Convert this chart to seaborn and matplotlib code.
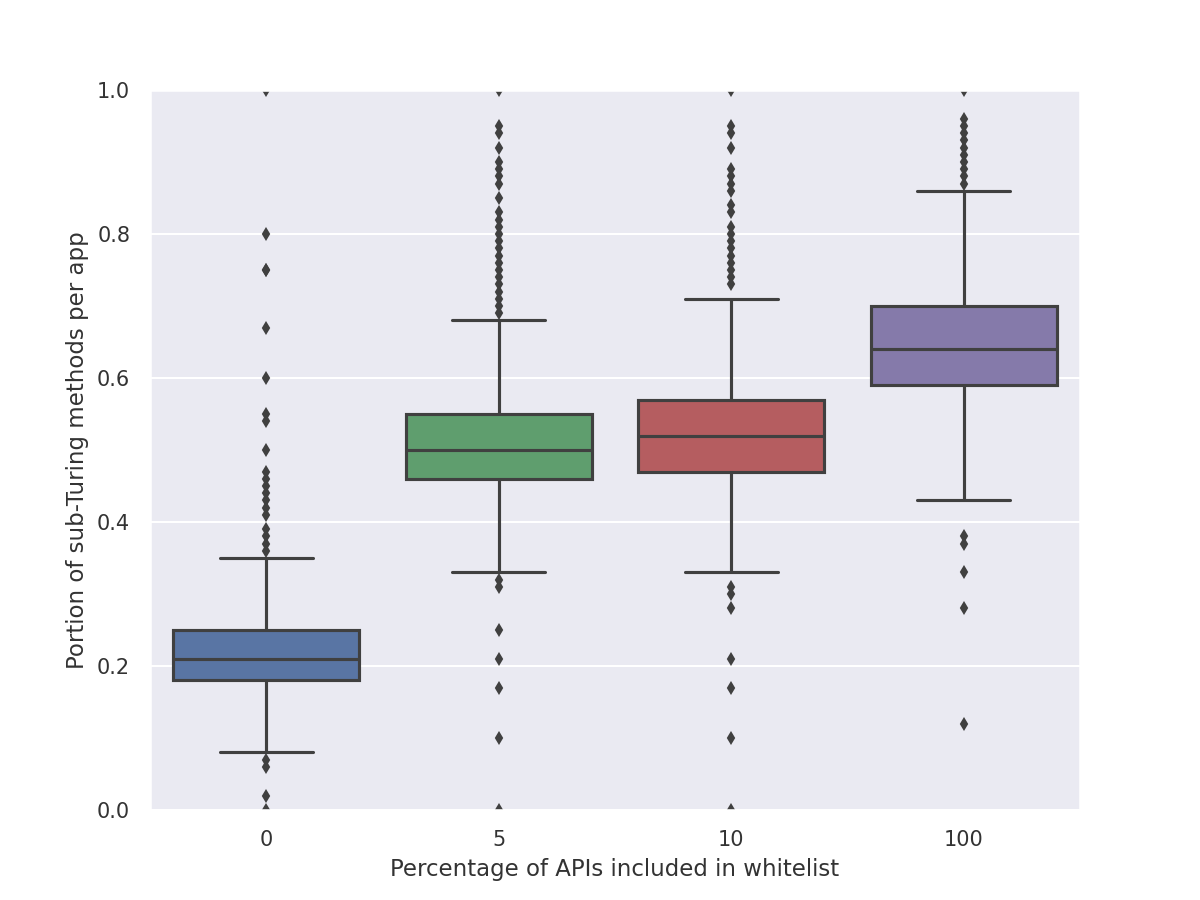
import matplotlib
matplotlib.use("Agg")
import matplotlib.pyplot as plt
import pandas as pd
import seaborn as sns

groups = ["0", "5", "10", "100"]
colors = ["#4C72B0", "#55A868", "#C44E52", "#8172B2"]

# box stats: low whisker, q1, median, q3, high whisker
whisk_lo = [0.08, 0.33, 0.33, 0.43]
q1 = [0.18, 0.46, 0.47, 0.59]
median = [0.21, 0.50, 0.52, 0.64]
q3 = [0.25, 0.55, 0.57, 0.70]
whisk_hi = [0.35, 0.68, 0.71, 0.86]

outliers_0 = [1.0, 0.80, 0.75, 0.75, 0.67, 0.60, 0.55, 0.54, 0.50, 0.47, 0.46, 0.45,
              0.44, 0.43, 0.42, 0.41, 0.39, 0.38, 0.37, 0.36,
              0.07, 0.06, 0.02, 0.0]
outliers_5 = [1.0, 0.95, 0.94, 0.92, 0.90, 0.89, 0.88, 0.87, 0.85, 0.83, 0.82, 0.81,
              0.80, 0.79, 0.78, 0.77, 0.76, 0.75, 0.74, 0.73, 0.72, 0.71, 0.70, 0.69,
              0.32, 0.31, 0.25, 0.21, 0.17, 0.10, 0.0]
outliers_10 = [1.0, 0.95, 0.94, 0.92, 0.89, 0.88, 0.87, 0.86, 0.84, 0.83, 0.81, 0.80,
               0.79, 0.78, 0.77, 0.76, 0.75, 0.74, 0.73,
               0.31, 0.30, 0.28, 0.21, 0.17, 0.10, 0.0]
outliers_100 = [1.0, 0.96, 0.95, 0.94, 0.93, 0.92, 0.91, 0.90, 0.89, 0.88, 0.87,
                0.38, 0.37, 0.33, 0.28, 0.12]
outliers = [outliers_0, outliers_5, outliers_10, outliers_100]

# many apps sit at the quartiles, so repeat those values to pin the box
n_core = 60
rows = []
for i, g in enumerate(groups):
    vals = [whisk_lo[i], whisk_hi[i]] + [q1[i]] * n_core + [median[i]] * n_core \
        + [q3[i]] * n_core + outliers[i]
    for v in vals:
        rows.append((g, v))
df = pd.DataFrame(rows, columns=["pct", "portion"])

sns.set_theme(style="darkgrid", rc={"axes.labelsize": 11,
                                    "xtick.labelsize": 10,
                                    "ytick.labelsize": 10,
                                    "text.color": "#333333",
                                    "axes.labelcolor": "#333333",
                                    "xtick.color": "#333333",
                                    "ytick.color": "#333333"})
fig = plt.figure(figsize=(8, 6), dpi=150)
ax = fig.add_axes([0.125, 0.1, 0.775, 0.8])

sns.boxplot(data=df, x="pct", y="portion", hue="pct", order=groups,
            palette=colors, legend=False, ax=ax, width=0.8,
            linecolor="#404040", linewidth=1.5, fliersize=3.5,
            flierprops=dict(marker="d", markerfacecolor="#404040",
                            markeredgecolor="#404040"))

ax.set_ylim(0, 1.0)
ax.set_xlabel("Percentage of APIs included in whitelist")
ax.set_ylabel("Portion of sub-Turing methods per app")

fig.savefig("out.png", dpi=150)
